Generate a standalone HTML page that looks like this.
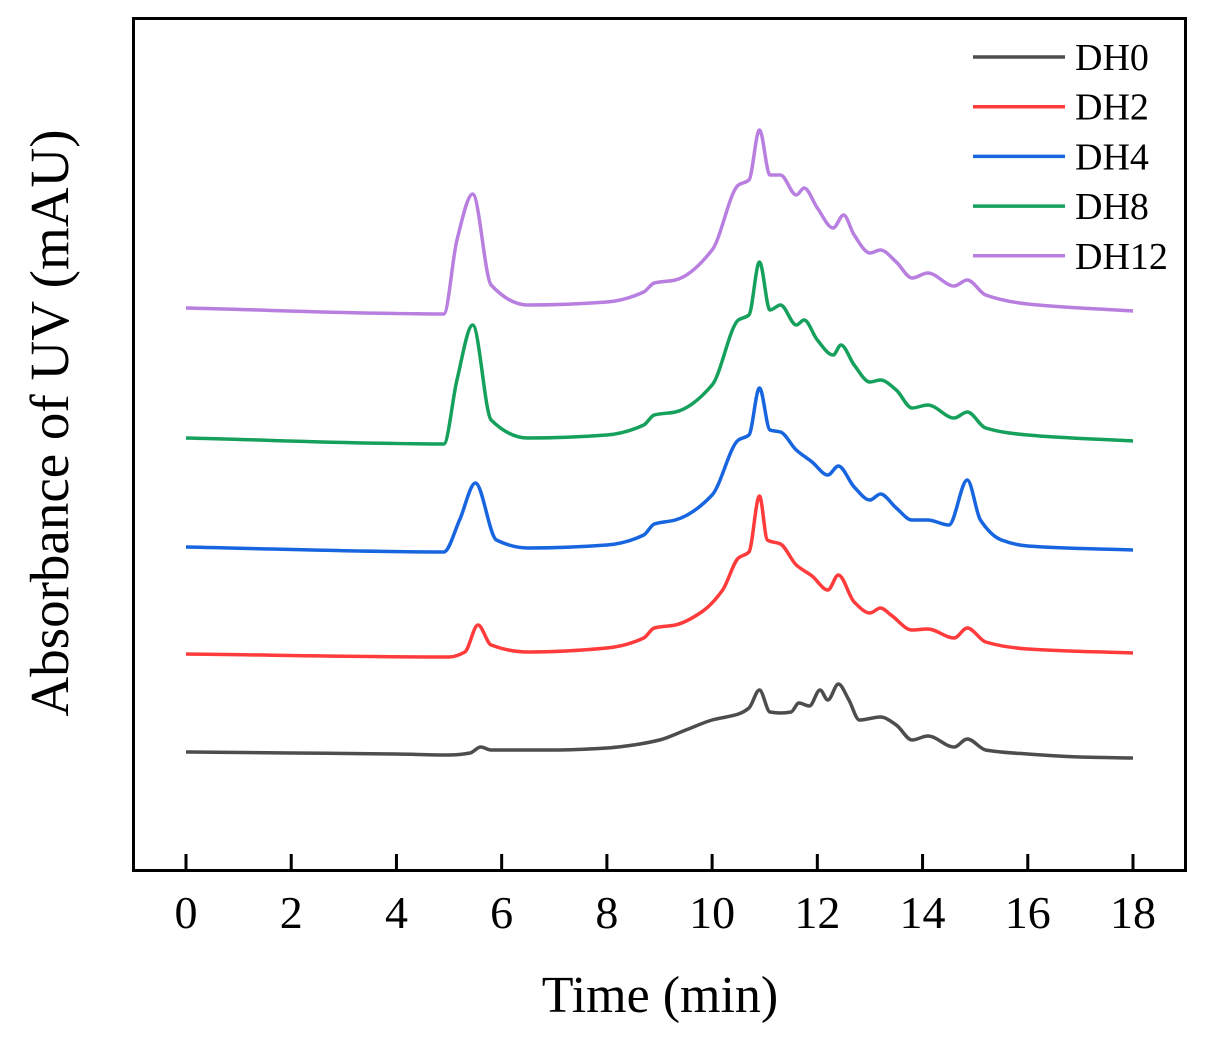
<!DOCTYPE html>
<html><head><meta charset="utf-8">
<style>
html,body{margin:0;padding:0;background:#fff;}
svg{display:block;font-family:"Liberation Serif",serif;}
</style></head>
<body>
<svg id="chart" width="1214" height="1045" viewBox="0 0 1214 1045" xmlns="http://www.w3.org/2000/svg">
<rect x="133.5" y="18.5" width="1052" height="852" fill="none" stroke="#000" stroke-width="3"/>
<g id="ticks"></g>
<g id="series"></g>
<g id="legend"></g>
<text x="660" y="1012" font-size="52" text-anchor="middle">Time (min)</text>
<text transform="translate(68,423) rotate(-90)" font-size="55" text-anchor="middle">Absorbance of UV (mAU)</text>
</svg>
<script>
const xTicks = [0,2,4,6,8,10,12,14,16,18];
const seriesNames = ["DH0","DH2","DH4","DH8","DH12"];
const seriesColors = ["#4d4d4d","#ff3b3b","#1766e0","#15a05c","#b87fe0"];
const dh0T = [0,2,4,5,5.4,5.6,5.8,7,8,8.5,9,9.5,10,10.5,10.7,10.9,11.1,11.3,11.5,11.65,11.85,12.05,12.2,12.4,12.6,12.8,13.2,13.5,13.8,14.1,14.6,14.85,15.2,16,17,18];
const dh0V = [118,117,116,115,117,123,120,120,122,125,130,140,150,156,162,180,158,157,158,167,164,180,170,186,170,150,153,145,130,134,123,131,120,116,113,112];
const dh2T = [0,5,5.3,5.55,5.8,6.5,8,8.7,8.9,9.3,9.8,10.2,10.5,10.7,10.9,11.05,11.3,11.6,11.9,12.2,12.4,12.7,13.0,13.2,13.4,13.8,14.1,14.6,14.85,15.2,16,18];
const dh2V = [216,213,218,245,225,218,222,232,242,245,258,280,312,318,374,330,326,305,294,280,295,268,257,262,255,240,241,232,242,228,221,217];
const dh4T = [0,4.9,5.2,5.5,5.9,6.5,8,8.7,8.9,9.3,10,10.5,10.7,10.9,11.1,11.3,11.6,11.9,12.2,12.4,12.7,13.0,13.2,13.5,13.8,14.1,14.5,14.85,15.1,15.5,16,18];
const dh4V = [323,318,350,387,330,322,325,335,346,350,375,430,435,482,440,438,420,408,395,404,383,370,376,362,350,350,345,390,350,330,324,320];
const dh8T = [0,4.9,5.15,5.45,5.8,6.5,8,8.7,8.9,9.3,10,10.5,10.7,10.9,11.1,11.3,11.6,11.75,12.0,12.3,12.45,12.7,13.0,13.2,13.5,13.8,14.1,14.6,14.85,15.2,16,18];
const dh8V = [432,426,490,545,450,432,435,445,455,458,485,550,555,608,560,565,545,550,530,515,525,505,488,490,480,462,465,452,458,442,435,429];
const dh12T = [0,4.9,5.15,5.45,5.8,6.5,8,8.7,8.9,9.3,10,10.5,10.7,10.9,11.1,11.3,11.6,11.75,12.0,12.3,12.5,12.7,13.0,13.2,13.5,13.8,14.1,14.6,14.85,15.2,16,18];
const dh12V = [562,556,630,676,585,565,568,578,587,590,620,685,690,740,695,695,675,682,662,642,655,635,617,620,608,592,597,584,590,575,566,559];

const NS="http://www.w3.org/2000/svg";
const xs = t => 186 + t*(1133-186)/18;
const ys = v => 870 - v;
const tg=document.getElementById('ticks');
xTicks.forEach(t=>{
  const l=document.createElementNS(NS,'line');
  
  
  l.setAttribute('x1',xs(t));l.setAttribute('x2',xs(t));
  l.setAttribute('y1',854);l.setAttribute('y2',870);
  l.setAttribute('stroke','#000');l.setAttribute('stroke-width','3');
  tg.appendChild(l);
  const tx=document.createElementNS(NS,'text');
  
  
  tx.setAttribute('x',xs(t));tx.setAttribute('y',928);
  tx.setAttribute('font-size','46');tx.setAttribute('text-anchor','middle');
  tx.textContent=t;
  tg.appendChild(tx);
});
function monotone(T,V){
  const x=T.map(xs), y=V.map(ys), n=x.length;
  const d=[], m=new Array(n);
  for(let i=0;i<n-1;i++) d.push((y[i+1]-y[i])/(x[i+1]-x[i]));
  m[0]=d[0]; m[n-1]=d[n-2];
  for(let i=1;i<n-1;i++){
    if(d[i-1]*d[i]<=0) m[i]=0;
    else { const h0=x[i]-x[i-1],h1=x[i+1]-x[i];
      m[i]=3*(h0+h1)/((2*h1+h0)/d[i-1]+(h1+2*h0)/d[i]); }
  }
  let p='M'+x[0]+','+y[0];
  for(let i=0;i<n-1;i++){
    const h=(x[i+1]-x[i])/3;
    p+=` C${x[i]+h},${y[i]+m[i]*h} ${x[i+1]-h},${y[i+1]-m[i+1]*h} ${x[i+1]},${y[i+1]}`;
  }
  return p;
}
const allT=[dh0T,dh2T,dh4T,dh8T,dh12T], allV=[dh0V,dh2V,dh4V,dh8V,dh12V];
const sg=document.getElementById('series');
allT.forEach((T,i)=>{
  const pa=document.createElementNS(NS,'path');
  
  
  pa.setAttribute('d',monotone(T,allV[i]));
  pa.setAttribute('fill','none');pa.setAttribute('stroke',seriesColors[i]);
  pa.setAttribute('stroke-width','3.5');pa.setAttribute('stroke-linejoin','round');
  sg.appendChild(pa);
});
const lg=document.getElementById('legend');
seriesNames.forEach((n,i)=>{
  const y=57+i*49.7;
  const g=document.createElementNS(NS,'g');
  
  
  const l=document.createElementNS(NS,'line');
  l.setAttribute('x1',973);l.setAttribute('x2',1065);l.setAttribute('y1',y);l.setAttribute('y2',y);
  l.setAttribute('stroke',seriesColors[i]);l.setAttribute('stroke-width','3.5');
  g.appendChild(l);
  const tx=document.createElementNS(NS,'text');
  tx.setAttribute('x',1075);tx.setAttribute('y',y+13);tx.setAttribute('font-size','38');
  tx.textContent=n;
  g.appendChild(tx);
  lg.appendChild(g);
});
</script>
</body></html>
